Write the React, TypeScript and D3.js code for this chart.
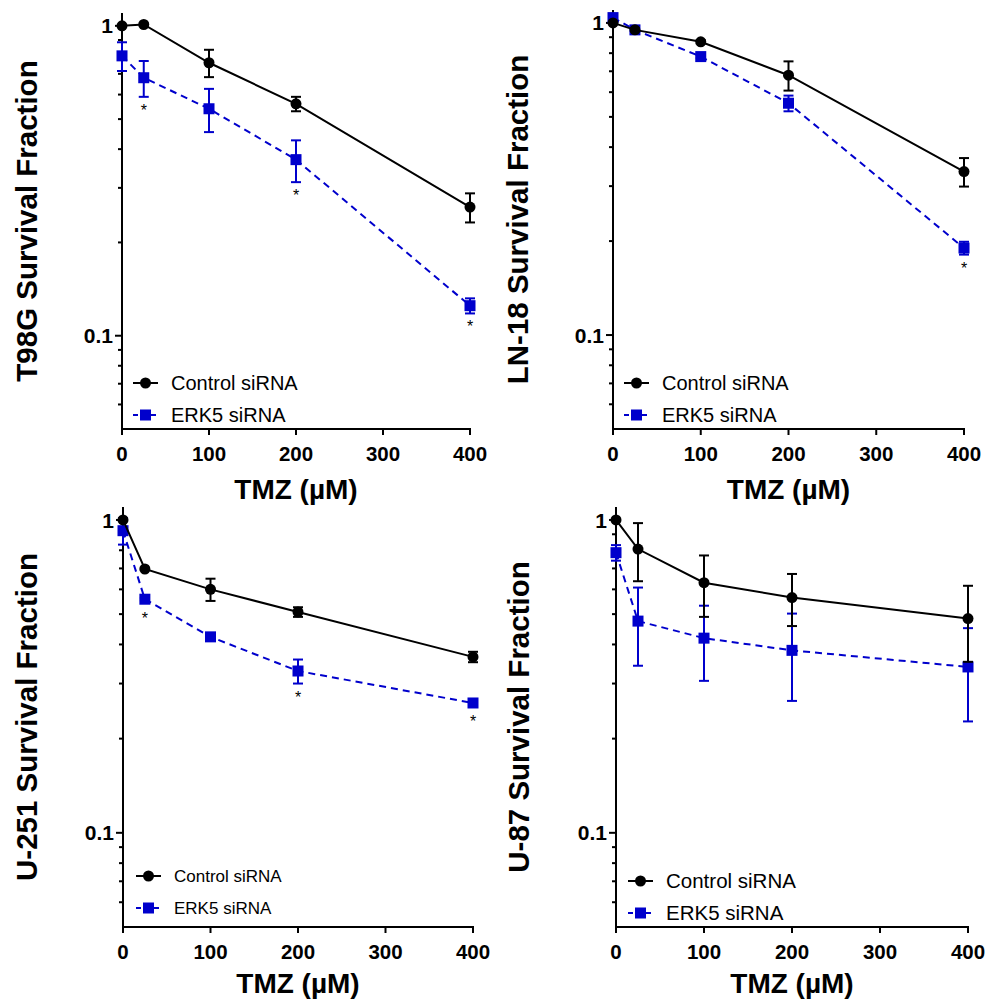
import React from 'react';
import * as d3 from 'd3';

// ---------- data ----------
const doses = [0, 25, 100, 200, 400];
const xTickValues = [0, 100, 200, 300, 400];
const yMajorTicks = [1, 0.1];
const yMajorLabels = ['1', '0.1'];
const yMinorTicks = [0.06, 0.07, 0.08, 0.09, 0.2, 0.3, 0.4, 0.5, 0.6, 0.7, 0.8, 0.9];
const legendLabels = ['Control siRNA', 'ERK5 siRNA'];
const xTitle = 'TMZ (µM)';

const t98gControl = [1.0, 1.01, 0.76, 0.56, 0.26];
const t98gControlErr = [0, 0, 0.077, 0.03, 0.028];
const t98gErk5 = [0.8, 0.68, 0.54, 0.37, 0.125];
const t98gErk5Err = [0.085, 0.09, 0.086, 0.057, 0.007];
const t98gSig = [false, true, false, true, true];

const ln18Control = [1.0, 0.95, 0.87, 0.68, 0.334];
const ln18ControlErr = [0, 0.01, 0.01, 0.073, 0.035];
const ln18Erk5 = [1.04, 0.95, 0.78, 0.553, 0.19];
const ln18Erk5Err = [0.01, 0.01, 0.01, 0.032, 0.009];
const ln18Sig = [false, false, false, false, true];

const u251Control = [1.0, 0.697, 0.6, 0.508, 0.365];
const u251ControlErr = [0, 0.005, 0.049, 0.018, 0.014];
const u251Erk5 = [0.924, 0.558, 0.423, 0.329, 0.26];
const u251Erk5Err = [0.09, 0.005, 0.005, 0.029, 0.004];
const u251Sig = [false, true, false, true, true];

const u87Control = [1.0, 0.807, 0.63, 0.565, 0.484];
const u87ControlErr = [0, 0.17, 0.14, 0.107, 0.132];
const u87Erk5 = [0.786, 0.475, 0.419, 0.383, 0.339];
const u87Erk5Err = [0.045, 0.133, 0.113, 0.119, 0.112];
const u87Sig = [false, false, false, false, false];

// ---------- layout ----------
const BLUE = '#0000cc';
const FONT = 'Arial, "Liberation Sans", Helvetica, sans-serif';

const panels = [
  { title: 'T98G Survival Fraction', control: t98gControl, controlErr: t98gControlErr, erk5: t98gErk5, erk5Err: t98gErk5Err, sig: t98gSig,
    x0: 122, x1: 470, yBottom: 429, yTop: 13, yTitleX: 37, legX: 133, legY: 383, legFont: 20, xTitleOff: 70 },
  { title: 'LN-18 Survival Fraction', control: ln18Control, controlErr: ln18ControlErr, erk5: ln18Erk5, erk5Err: ln18Erk5Err, sig: ln18Sig,
    x0: 613, x1: 964, yBottom: 429, yTop: 10, yTitleX: 528, legX: 624, legY: 383, legFont: 20, xTitleOff: 70 },
  { title: 'U-251 Survival Fraction', control: u251Control, controlErr: u251ControlErr, erk5: u251Erk5, erk5Err: u251Erk5Err, sig: u251Sig,
    x0: 123, x1: 473, yBottom: 927, yTop: 507, yTitleX: 37, legX: 136, legY: 876, legFont: 17, xTitleOff: 66 },
  { title: 'U-87 Survival Fraction', control: u87Control, controlErr: u87ControlErr, erk5: u87Erk5, erk5Err: u87Erk5Err, sig: u87Sig,
    x0: 616, x1: 968, yBottom: 927, yTop: 507, yTitleX: 529, legX: 628, legY: 881, legFont: 20.5, xTitleOff: 66 },
];

type P = typeof panels[number];

function Panel({ p }: { p: P }) {
  const x = d3.scaleLinear().domain([0, 400]).range([p.x0, p.x1]);
  const y = d3.scaleLog().domain([0.05, 1.1]).range([p.yBottom, p.yTop]);
  const line = d3.line<number>().x((_, i) => x(doses[i])).y((d) => y(d));
  const legGap = 32;

  const errBars = (vals: number[], errs: number[], color: string) =>
    vals.map((v, i) => {
      const e = errs[i];
      if (!e) return null;
      const cx = x(doses[i]);
      const yl = y(Math.max(v - e, 0.051));
      const yh = y(v + e);
      return (
        <g key={i} stroke={color} strokeWidth={2}>
          <line x1={cx} x2={cx} y1={yl} y2={yh} />
          <line x1={cx - 5} x2={cx + 5} y1={yl} y2={yl} />
          <line x1={cx - 5} x2={cx + 5} y1={yh} y2={yh} />
        </g>
      );
    });

  const midY = (p.yBottom + p.yTop) / 2;
  const midX = (p.x0 + p.x1) / 2;

  return (
    <g fontFamily={FONT}>
      {/* axes */}
      <line x1={p.x0} x2={p.x0} y1={p.yBottom + 1} y2={p.yTop} stroke="#000" strokeWidth={2} />
      <line x1={p.x0 - 1} x2={p.x1 + 1} y1={p.yBottom} y2={p.yBottom} stroke="#000" strokeWidth={2} />
      {xTickValues.map((t) => (
        <g key={t}>
          <line x1={x(t)} x2={x(t)} y1={p.yBottom} y2={p.yBottom + 6} stroke="#000" strokeWidth={2} />
          <text x={x(t)} y={p.yBottom + 32} textAnchor="middle" fontSize={20.5} fontWeight="bold">{t}</text>
        </g>
      ))}
      {yMajorTicks.map((t, i) => (
        <g key={t}>
          <line x1={p.x0 - 7} x2={p.x0} y1={y(t)} y2={y(t)} stroke="#000" strokeWidth={2} />
          <text x={p.x0 - 9} y={y(t)} dy="0.36em" textAnchor="end" fontSize={21} fontWeight="bold">{yMajorLabels[i]}</text>
        </g>
      ))}
      {yMinorTicks.map((t) => (
        <line key={t} x1={p.x0 - 4} x2={p.x0} y1={y(t)} y2={y(t)} stroke="#000" strokeWidth={2} />
      ))}
      <text transform={`translate(${p.yTitleX},${midY}) rotate(-90)`} textAnchor="middle" fontSize={29.5} fontWeight="bold">{p.title}</text>
      <text x={midX} y={p.yBottom + p.xTitleOff} textAnchor="middle" fontSize={28} fontWeight="bold">{xTitle}</text>

      {/* ERK5 series */}
      <path d={line(p.erk5) || ''} fill="none" stroke={BLUE} strokeWidth={2} strokeDasharray="7,5" />
      {errBars(p.erk5, p.erk5Err, BLUE)}
      {p.erk5.map((v, i) => (
        <rect key={i} x={x(doses[i]) - 5.5} y={y(v) - 5.5} width={11} height={11} fill={BLUE} />
      ))}

      {/* Control series */}
      <path d={line(p.control) || ''} fill="none" stroke="#000" strokeWidth={2} />
      {errBars(p.control, p.controlErr, '#000')}
      {p.control.map((v, i) => (
        <circle key={i} cx={x(doses[i])} cy={y(v)} r={5.5} fill="#000" />
      ))}

      {/* significance */}
      {p.sig.map((s, i) => {
        if (!s) return null;
        const v = p.erk5[i];
        const bottom = Math.max(y(Math.max(v - p.erk5Err[i], 0.051)), y(v) + 5.5);
        return (
          <text key={i} x={x(doses[i])} y={bottom + 19} textAnchor="middle" fontSize={16}>*</text>
        );
      })}

      {/* legend */}
      <line x1={p.legX} x2={p.legX + 25} y1={p.legY} y2={p.legY} stroke="#000" strokeWidth={2} />
      <circle cx={p.legX + 12.5} cy={p.legY} r={5.5} fill="#000" />
      <text x={p.legX + 38} y={p.legY} dy="0.36em" fontSize={p.legFont}>{legendLabels[0]}</text>
      <line x1={p.legX} x2={p.legX + 25} y1={p.legY + legGap} y2={p.legY + legGap} stroke={BLUE} strokeWidth={2} strokeDasharray="5,4" />
      <rect x={p.legX + 7} y={p.legY + legGap - 5.5} width={11} height={11} fill={BLUE} />
      <text x={p.legX + 38} y={p.legY + legGap} dy="0.36em" fontSize={p.legFont}>{legendLabels[1]}</text>
    </g>
  );
}

export default function App() {
  return (
    <svg width={987} height={1001} style={{ position: 'absolute', left: 0, top: 0, background: '#fff' }}>
      <rect width={987} height={1001} fill="#fff" />
      {panels.map((p) => (
        <Panel key={p.title} p={p} />
      ))}
    </svg>
  );
}
